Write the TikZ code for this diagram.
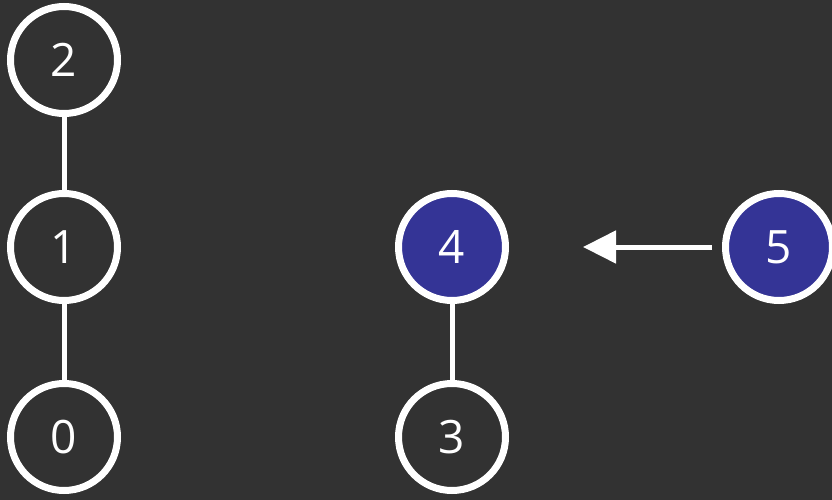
\documentclass[tikz,border=0pt]{standalone}
\usepackage{fontspec}
\setmainfont{Open Sans}
\usepackage{tikz}
\usepackage{xcolor}
\usetikzlibrary{shapes, positioning, arrows.meta}

\definecolor{bgdark}{RGB}{50,50,50}
\definecolor{rootblue}{RGB}{52,52,150}

\tikzset{
    vertex/.style={circle, draw=white, line width=7pt, fill=bgdark, text=white,
        minimum size=107pt, inner sep=0pt, font=\fontsize{46}{50}\selectfont},
    root/.style={vertex, fill=rootblue},
    link/.style={draw=white, line width=5pt}
}

\begin{document}
\begin{tikzpicture}[x=1pt, y=-1pt]
        \fill[bgdark] (0, 0) rectangle (832, 500);
        \useasboundingbox (0, 0) rectangle (832, 500);

        \node[vertex] (v2) at (64, 60) {2};
        \node[vertex] (v1) at (64, 247) {1};
        \node[vertex] (v0) at (64, 437) {0};
        \node[root] (v4) at (452, 247) {4};
        \node[vertex] (v3) at (452, 437) {3};
        \node[root] (v5) at (779, 247) {5};
        \coordinate (tip) at (583, 247);

        \draw[link] (v2) to (v1);
        \draw[link] (v1) to (v0);
        \draw[link] (v4) to (v3);
        \draw[link, -{Triangle[length=33pt, width=32pt]}, shorten <=10pt] (v5) to (tip);
    \end{tikzpicture}
\end{document}
